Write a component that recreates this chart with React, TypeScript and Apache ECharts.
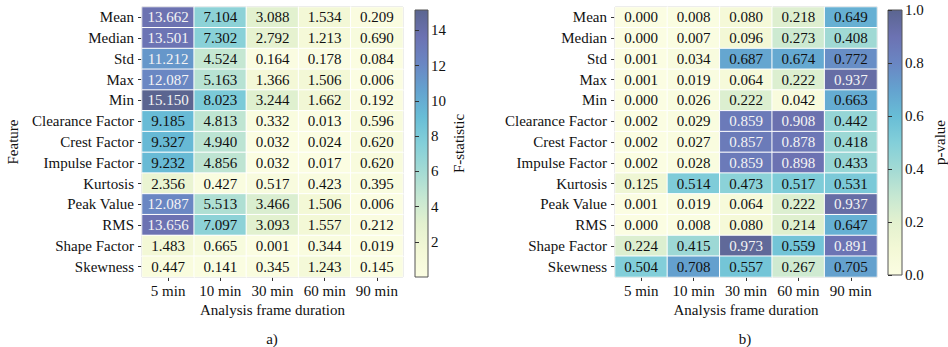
import React, { useEffect, useRef } from 'react';
import * as echarts from 'echarts';

const features = ['Mean', 'Median', 'Std', 'Max', 'Min', 'Clearance Factor', 'Crest Factor', 'Impulse Factor', 'Kurtosis', 'Peak Value', 'RMS', 'Shape Factor', 'Skewness'];
const durations = ['5 min', '10 min', '30 min', '60 min', '90 min'];

const fStatistic = [
  [13.662, 7.104, 3.088, 1.534, 0.209],
  [13.501, 7.302, 2.792, 1.213, 0.690],
  [11.212, 4.524, 0.164, 0.178, 0.084],
  [12.087, 5.163, 1.366, 1.506, 0.006],
  [15.150, 8.023, 3.244, 1.662, 0.192],
  [9.185, 4.813, 0.332, 0.013, 0.596],
  [9.327, 4.940, 0.032, 0.024, 0.620],
  [9.232, 4.856, 0.032, 0.017, 0.620],
  [2.356, 0.427, 0.517, 0.423, 0.395],
  [12.087, 5.513, 3.466, 1.506, 0.006],
  [13.656, 7.097, 3.093, 1.557, 0.212],
  [1.483, 0.665, 0.001, 0.344, 0.019],
  [0.447, 0.141, 0.345, 1.243, 0.145],
];

const pValues = [
  [0.000, 0.008, 0.080, 0.218, 0.649],
  [0.000, 0.007, 0.096, 0.273, 0.408],
  [0.001, 0.034, 0.687, 0.674, 0.772],
  [0.001, 0.019, 0.064, 0.222, 0.937],
  [0.000, 0.026, 0.222, 0.042, 0.663],
  [0.002, 0.029, 0.859, 0.908, 0.442],
  [0.002, 0.027, 0.857, 0.878, 0.418],
  [0.002, 0.028, 0.859, 0.898, 0.433],
  [0.125, 0.514, 0.473, 0.517, 0.531],
  [0.001, 0.019, 0.064, 0.222, 0.937],
  [0.000, 0.008, 0.080, 0.214, 0.647],
  [0.224, 0.415, 0.973, 0.559, 0.891],
  [0.504, 0.708, 0.557, 0.267, 0.705],
];

const fRange = [0.001, 15.15];
const pRange = [0, 1];
const fTicks = [2, 4, 6, 8, 10, 12, 14];
const pTicks = [0, 0.2, 0.4, 0.6, 0.8, 1.0];

const cmap = ['#fbfde2', '#f3f8d6', '#e3f1cf', '#c5e7d2', '#a2dad4', '#83cfd9', '#68bdd6', '#64a2cf', '#6a86c3', '#6c72b2', '#5b6590'];

const FONT = 'Liberation Serif';
const FS = 15;

function toData(m: number[][], whiteFrom: number) {
  return m.flatMap((row, i) =>
    row.map((v, j) => ({
      value: [j, i, v],
      label: { color: v >= whiteFrom ? '#f4f4f4' : '#111' },
    }))
  );
}

function gradient() {
  return new echarts.graphic.LinearGradient(0, 1, 0, 0,
    cmap.map((c, i) => ({ offset: i / (cmap.length - 1), color: c })));
}

export default function App() {
  const ref = useRef<HTMLDivElement>(null);
  useEffect(() => {
    if (!ref.current) return;
    const chart = echarts.init(ref.current, null, { renderer: 'svg' });
    const txt = { fontFamily: FONT, fontSize: FS, color: '#111' };
    const catX = (gi: number) => ({
      type: 'category', gridIndex: gi, data: durations,
      name: 'Analysis frame duration', nameLocation: 'middle', nameGap: 24,
      nameTextStyle: { ...txt },
      axisLine: { show: false },
      axisTick: { show: true, alignWithLabel: true, length: 4, lineStyle: { color: '#333' } },
      axisLabel: { ...txt, margin: 6, interval: 0 },
      splitLine: { show: false },
    });
    const catY = (gi: number, name: string) => ({
      type: 'category', gridIndex: gi, data: features, inverse: true,
      name, nameLocation: 'middle', nameGap: 122, nameRotate: 90,
      nameTextStyle: { ...txt },
      axisLine: { show: false },
      axisTick: { show: true, alignWithLabel: true, length: 4, lineStyle: { color: '#333' } },
      axisLabel: { ...txt, margin: 8, interval: 0 },
      splitLine: { show: false },
    });
    const cbY = (gi: number, range: number[], ticks: number[], name: string, gap: number, fmt: (v: number) => string) => ({
      type: 'value', gridIndex: gi, position: 'right',
      min: range[0] === 0.001 ? 0 : range[0], max: range[1],
      name, nameLocation: 'middle', nameGap: gap, nameRotate: 90,
      nameTextStyle: { ...txt },
      axisLine: { show: false },
      splitLine: { show: false },
      axisTick: { show: true, length: 4, customValues: ticks, lineStyle: { color: '#333' } },
      axisLabel: { ...txt, margin: 3, customValues: ticks, formatter: (v: number) => fmt(v) },
    });
    const heat = (gi: number, data: any[]) => ({
      type: 'heatmap', xAxisIndex: gi, yAxisIndex: gi, data,
      label: { show: true, fontFamily: FONT, fontSize: FS, formatter: (p: any) => p.value[2].toFixed(3) },
      itemStyle: { borderColor: '#ffffff', borderWidth: 1 },
      emphasis: { disabled: true },
    });
    chart.setOption({
      animation: false,
      backgroundColor: '#ffffff',
      textStyle: { fontFamily: FONT },
      grid: [
        { left: 142, top: 7, width: 261, height: 270, show: true, borderColor: '#444', borderWidth: 1, backgroundColor: 'transparent' },
        { left: 615, top: 7, width: 262, height: 270, show: true, borderColor: '#444', borderWidth: 1, backgroundColor: 'transparent' },
        { left: 415, top: 10, width: 13, height: 267, show: true, borderColor: '#555', borderWidth: 1, backgroundColor: gradient() },
        { left: 888, top: 10, width: 15, height: 265, show: true, borderColor: '#555', borderWidth: 1, backgroundColor: gradient() },
      ],
      xAxis: [
        catX(0), catX(1),
        { type: 'value', gridIndex: 2, show: false },
        { type: 'value', gridIndex: 3, show: false },
      ],
      yAxis: [
        catY(0, 'Feature'), catY(1, ''),
        cbY(2, fRange, fTicks, 'F-statistic', 23, (v) => String(v)),
        cbY(3, pRange, pTicks, 'p-value', 30, (v) => v.toFixed(1)),
      ],
      visualMap: [
        { type: 'continuous', show: false, seriesIndex: 0, min: fRange[0], max: fRange[1], inRange: { color: cmap } },
        { type: 'continuous', show: false, seriesIndex: 1, min: pRange[0], max: pRange[1], inRange: { color: cmap } },
      ],
      series: [
        heat(0, toData(fStatistic, 11)),
        heat(1, toData(pValues, 0.8)),
      ],
      graphic: [
        { type: 'text', x: 272, y: 339, style: { text: 'a)', fontFamily: FONT, fontSize: FS, fill: '#111', textAlign: 'center', textVerticalAlign: 'middle' } },
        { type: 'text', x: 745, y: 339, style: { text: 'b)', fontFamily: FONT, fontSize: FS, fill: '#111', textAlign: 'center', textVerticalAlign: 'middle' } },
      ],
    });
    return () => chart.dispose();
  }, []);
  return <div ref={ref} style={{ position: 'fixed', left: 0, top: 0, width: 948, height: 347 }} />;
}
